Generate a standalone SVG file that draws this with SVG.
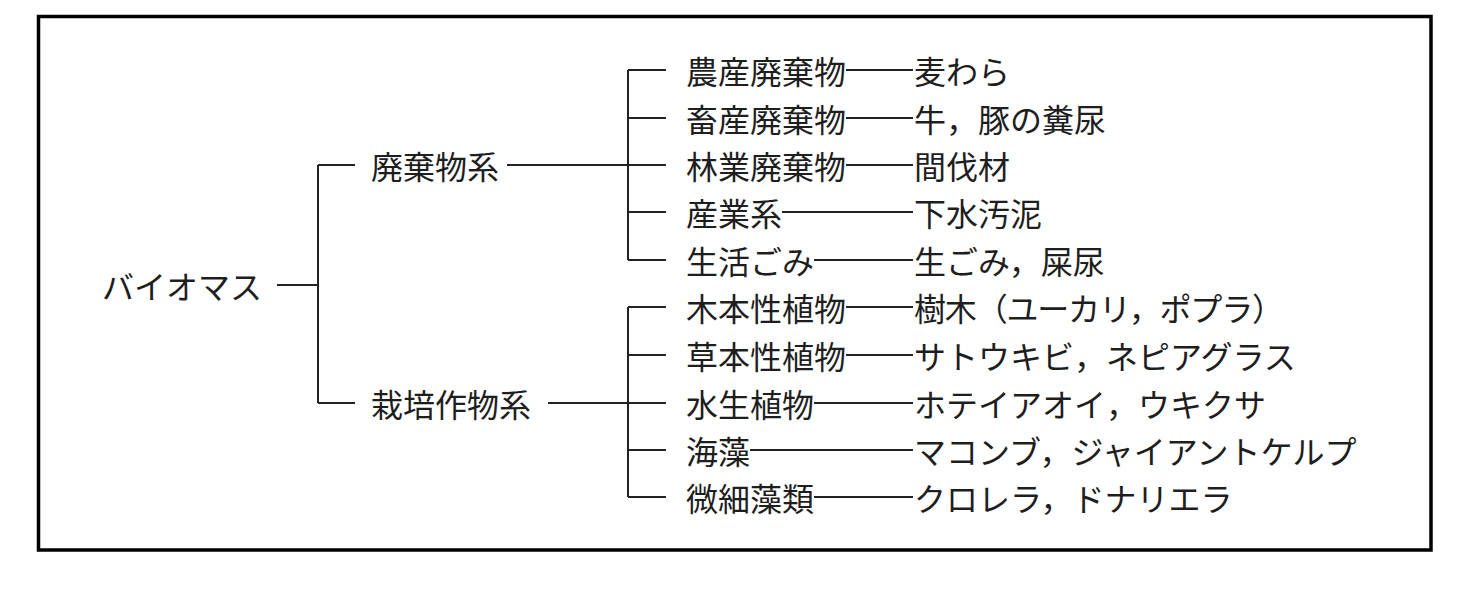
<svg xmlns="http://www.w3.org/2000/svg" width="1473" height="592" viewBox="0 0 1473 592">
<style>
text{font-family:"Noto Sans CJK JP","Noto Sans CJK SC",sans-serif;font-size:32px;fill:#1e1e1e;dominant-baseline:central}
.ln{stroke:#222;stroke-width:2;fill:none}
.frame{stroke:#000;stroke-width:3.5;fill:#fff}
</style>
<rect class="frame" x="38.5" y="16.5" width="1392.5" height="533.5"/>
<g id="connectors">
<path class="ln" d="M277 285H318M318 165V403M318 165H355M318 403H355"/>
<path class="ln" d="M507 165H666M628 70V260M628 70H666M628 118H666M628 212H666M628 260H666"/>
<path class="ln" d="M548 403H666M628 307V497M628 307H666M628 355H666M628 450H666M628 497H666"/>
<path class="ln" d="M846 70H913M846 118H913M846 165H913M782 212H913M814 260H913"/>
<path class="ln" d="M846 307H913M846 355H913M814 403H913M750 450H913M814 497H913"/>
</g>
<g id="root"><text x="102" y="285">バイオマス</text></g>
<g id="waste"><text x="371" y="165">廃棄物系</text></g>
<g id="crop"><text x="371" y="403">栽培作物系</text></g>
<g id="w1"><text x="686" y="70">農産廃棄物</text><text x="914" y="70">麦わら</text></g>
<g id="w2"><text x="686" y="118">畜産廃棄物</text><text x="914" y="118">牛，豚の糞尿</text></g>
<g id="w3"><text x="686" y="165">林業廃棄物</text><text x="914" y="165">間伐材</text></g>
<g id="w4"><text x="686" y="212">産業系</text><text x="914" y="212">下水汚泥</text></g>
<g id="w5"><text x="686" y="260">生活ごみ</text><text x="914" y="260">生ごみ，屎尿</text></g>
<g id="c1"><text x="686" y="307">木本性植物</text><text x="914" y="307" textLength="370" lengthAdjust="spacing">樹木（ユーカリ，ポプラ）</text></g>
<g id="c2"><text x="686" y="355">草本性植物</text><text x="914" y="355">サトウキビ，ネピアグラス</text></g>
<g id="c3"><text x="686" y="403">水生植物</text><text x="914" y="403">ホテイアオイ，ウキクサ</text></g>
<g id="c4"><text x="686" y="450">海藻</text><text x="914" y="450">マコンブ，ジャイアントケルプ</text></g>
<g id="c5"><text x="686" y="497">微細藻類</text><text x="914" y="497">クロレラ，ドナリエラ</text></g>
</svg>
